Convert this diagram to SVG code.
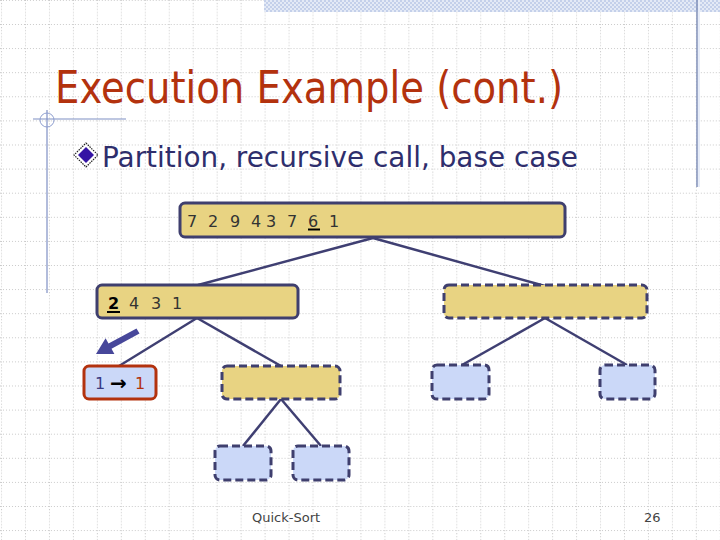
<svg xmlns="http://www.w3.org/2000/svg" width="720" height="540" viewBox="0 0 720 540">
<defs>
<pattern id="gv" patternUnits="userSpaceOnUse" x="25" y="0" width="23.96" height="24.1">
<line x1="0.5" y1="0" x2="0.5" y2="24.1" stroke="#c9c9c9" stroke-width="1" stroke-dasharray="1 2"/>
</pattern>
<pattern id="gh" patternUnits="userSpaceOnUse" x="0" y="24" width="23.96" height="24.1">
<line x1="0" y1="0.5" x2="23.96" y2="0.5" stroke="#c9c9c9" stroke-width="1" stroke-dasharray="1 2"/>
</pattern>
<pattern id="chk" patternUnits="userSpaceOnUse" width="4" height="4">
<rect width="4" height="4" fill="#e4eaf6"/>
<rect width="2" height="2" fill="#c4d0ea"/>
<rect x="2" y="2" width="2" height="2" fill="#c4d0ea"/>
</pattern>
<style>
.edge{stroke:#3f3f72;stroke-width:2.5;fill:none}
.yel{fill:#e8d382;stroke:#3f3f6e;stroke-width:3}
.blu{fill:#cbd8f8;stroke:#3f3f6e;stroke-width:3}
.dash{stroke-dasharray:8 4}
.num{font-family:"DejaVu Sans",Verdana,sans-serif;font-size:16px;fill:#333}
</style>
</defs>
<rect width="720" height="540" fill="#fff"/>
<rect width="720" height="540" fill="url(#gv)"/>
<rect width="720" height="540" fill="url(#gh)"/>
<rect x="264" y="0" width="456" height="12" fill="url(#chk)"/>
<line x1="697" y1="0" x2="697" y2="187" stroke="#7f8fb8" stroke-width="1.5"/>
<line x1="699" y1="0" x2="699" y2="187" stroke="#e6ecf8" stroke-width="2"/>
<line x1="33" y1="119" x2="126" y2="119" stroke="#7f8fc4" stroke-width="1.2"/>
<line x1="47" y1="110" x2="47" y2="293" stroke="#7f8fc4" stroke-width="1.2"/>
<circle cx="47" cy="120" r="7" fill="none" stroke="#8f9fd0" stroke-width="1"/>

<text x="55" y="103" font-family="DejaVu Sans,Verdana,sans-serif" font-size="44" fill="#b3320e" textLength="508" lengthAdjust="spacingAndGlyphs">Execution Example (cont.)</text>

<g id="bullet">
<polygon points="86,143 98,155 86,167 74,155" fill="#fff" stroke="#222" stroke-width="1.2" stroke-dasharray="1.5 1"/>
<polygon points="86,147 94,155 86,163 78,155" fill="#3414a4"/>
</g>
<text x="102" y="167" font-family="DejaVu Sans,Verdana,sans-serif" font-size="29" fill="#2e2e6c" textLength="476" lengthAdjust="spacingAndGlyphs">Partition, recursive call, base case</text>

<g id="connectors">
<line class="edge" x1="373" y1="238" x2="198" y2="285"/>
<line class="edge" x1="373" y1="238" x2="545" y2="286"/>
<line class="edge" x1="197" y1="318" x2="119" y2="366"/>
<line class="edge" x1="197" y1="318" x2="281" y2="366"/>
<line class="edge" x1="545" y1="318" x2="462" y2="365"/>
<line class="edge" x1="545" y1="318" x2="627" y2="365"/>
<line class="edge" x1="281" y1="399" x2="243" y2="446"/>
<line class="edge" x1="281" y1="399" x2="321" y2="446"/>
</g>

<g id="n1">
<rect class="yel" x="180" y="203" width="385" height="34" rx="5"/>
<text class="num" y="227" x="187 197 208 220 230 243 251 260 266 278 287 300 308 320 329" xml:space="preserve">7 2 9 4 3 7 6 1</text>
<line x1="308" y1="229.5" x2="320" y2="229.5" stroke="#000" stroke-width="2"/>
</g>

<g id="n2">
<rect class="yel" x="97" y="285" width="201" height="33" rx="5"/>
<text y="309" font-family="DejaVu Sans,Verdana,sans-serif" font-size="16" fill="#333"><tspan x="108" font-weight="bold" fill="#000">2</tspan><tspan x="129">4</tspan><tspan x="151">3</tspan><tspan x="172">1</tspan></text>
<line x1="107" y1="312" x2="120" y2="312" stroke="#000" stroke-width="2"/>
</g>

<g id="n3">
<rect class="yel dash" x="444" y="285" width="203" height="33" rx="5"/>
</g>

<g id="n4">
<rect x="84" y="366" width="72" height="33" rx="5" fill="#cbd8f8" stroke="#b3320e" stroke-width="3"/>
<text y="389" font-family="DejaVu Sans,Verdana,sans-serif" font-size="16"><tspan x="95" fill="#3a3a82">1</tspan><tspan x="110" y="390" fill="#000" font-weight="bold" font-size="20">→</tspan><tspan x="135" y="389" fill="#b3320e">1</tspan></text>
</g>

<g id="n5">
<rect class="yel dash" x="222" y="366" width="118" height="33" rx="5"/>
</g>
<g id="n6">
<rect class="blu dash" x="432" y="365" width="57" height="34" rx="5"/>
</g>
<g id="n7">
<rect class="blu dash" x="600" y="365" width="55" height="34" rx="5"/>
</g>
<g id="n8">
<rect class="blu dash" x="215" y="446" width="56" height="34" rx="5"/>
</g>
<g id="n9">
<rect class="blu dash" x="293" y="446" width="56" height="34" rx="5"/>
</g>

<g id="arrow">
<polygon points="136.5,328.4 108.5,343.6 105.6,338.3 96,354 114.4,354.1 111.5,348.8 139.5,333.6" fill="#47479a"/>
</g>

<text x="252" y="522" font-family="DejaVu Sans,Verdana,sans-serif" font-size="13" fill="#444">Quick-Sort</text>
<text x="644" y="522" font-family="DejaVu Sans,Verdana,sans-serif" font-size="13" fill="#444">26</text>
</svg>
